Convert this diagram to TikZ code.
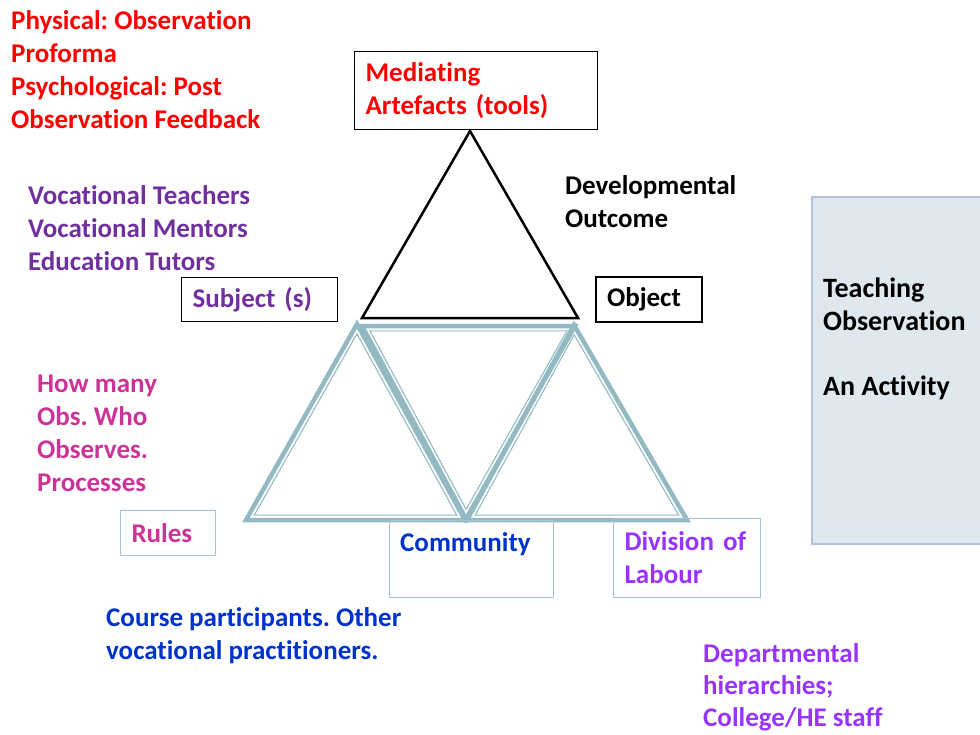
\documentclass[tikz,border=0pt]{standalone}
\usepackage{fontspec}
\setmainfont{Carlito}[Ligatures={NoCommon}]
\usetikzlibrary{calc}
\definecolor{tri}{HTML}{93B9C3}
\definecolor{redt}{HTML}{FF0000}
\definecolor{purp}{HTML}{7030A0}
\definecolor{mag}{HTML}{CC3399}
\definecolor{bluet}{HTML}{0033CC}
\definecolor{viol}{HTML}{9933FF}
\definecolor{lbord}{HTML}{A9C2D0}
\definecolor{panelfill}{HTML}{DEE8EE}
\definecolor{panelbord}{HTML}{B4C1DC}
\frenchspacing
\begin{document}
\begin{tikzpicture}[x=1pt,y=-1pt,
  txt/.style={anchor=base west, align=left, inner sep=0pt, font=\fontsize{27}{33}\selectfont\bfseries},
  blackbox/.style={draw=black, line width=1.2pt, align=left, inner xsep=11pt, inner ysep=0pt, anchor=north west, font=\fontsize{27}{33}\selectfont\bfseries},
  lightbox/.style={draw=lbord, line width=1pt, align=left, inner xsep=11pt, inner ysep=0pt, anchor=north west, font=\fontsize{27}{33}\selectfont\bfseries},
  outertri/.style={draw=tri, line width=4.5pt, line join=miter},
  innertri/.style={draw=tri, line width=1.1pt, line join=miter}]
\useasboundingbox (0,0) rectangle (980,734);

% right panel
\node[draw=panelbord, fill=panelfill, line width=1.5pt, minimum width=190pt, minimum height=347pt, anchor=north west, inner sep=0pt] (panel) at (811,196) {};
\node[txt, font=\fontsize{28}{33}\selectfont\bfseries, text=black] (paneltxt) at (823,395) {Teaching\\Observation\\[32pt]An Activity};

% blue-grey triangles
\coordinate (L1) at (357,324); \coordinate (L2) at (246,520); \coordinate (L3) at (465,520);
\coordinate (M1) at (362,326); \coordinate (M2) at (575,326); \coordinate (M3) at (466,519);
\coordinate (R1) at (574,325); \coordinate (R2) at (467,520); \coordinate (R3) at (687,520);
\foreach \t in {L,M,R}{
  \draw[outertri] (\t1) -- (\t2) -- (\t3) -- cycle;
  \coordinate (\t G) at ($0.3333*(\t1)+0.3333*(\t2)+0.3334*(\t3)$);
  \draw[innertri] ($(\t G)!0.925!(\t1)$) -- ($(\t G)!0.925!(\t2)$) -- ($(\t G)!0.925!(\t3)$) -- cycle;
}

% black triangle
\coordinate (T1) at (470,131); \coordinate (T2) at (362,318); \coordinate (T3) at (578,318);
\draw[line width=2.5pt, line join=miter] (T1) -- (T2) -- (T3) -- cycle;

% boxes
\node[blackbox, text width=221pt, minimum height=78pt, text=redt] (med) at (354,51) {Mediating\\Artefacts (tools)};
\node[blackbox, text width=134pt, minimum height=44pt, text=purp] (subj) at (181,277) {Subject (s)};
\node[blackbox, line width=2pt, text width=84pt, minimum height=45pt] (obj) at (595,276) {Object};
\node[lightbox, text width=73pt, minimum height=45pt, text=mag] (rules) at (120,510) {Rules};
\node[lightbox, minimum width=164pt, minimum height=77pt, inner sep=0pt] (comm) at (389,520) {};
\node[txt, text=bluet] (commtxt) at (400,551) {Community};
\node[lightbox, text width=125pt, minimum height=79pt, text=viol] (div) at (613,518) {Division of\\Labour};

% free texts
\node[txt, text=redt] (phys) at (11,128) {Physical: Observation\\Proforma\\Psychological: Post\\Observation Feedback};
\node[txt] (dev) at (565,227) {Developmental\\Outcome};
\node[txt, text=purp] (voc) at (28,270) {Vocational Teachers\\Vocational Mentors\\Education Tutors};
\node[txt, text=mag] (how) at (37,491) {How many\\Obs. Who\\Observes.\\Processes};
\node[txt, text=bluet, font=\fontsize{27}{32.5}\selectfont\bfseries] (course) at (106,659) {Course participants. Other\\vocational practitioners.};
\node[txt, text=viol, font=\fontsize{27}{32}\selectfont\bfseries] (dept) at (703,726) {Departmental\\hierarchies;\\College/HE staff};
\end{tikzpicture}
\end{document}
